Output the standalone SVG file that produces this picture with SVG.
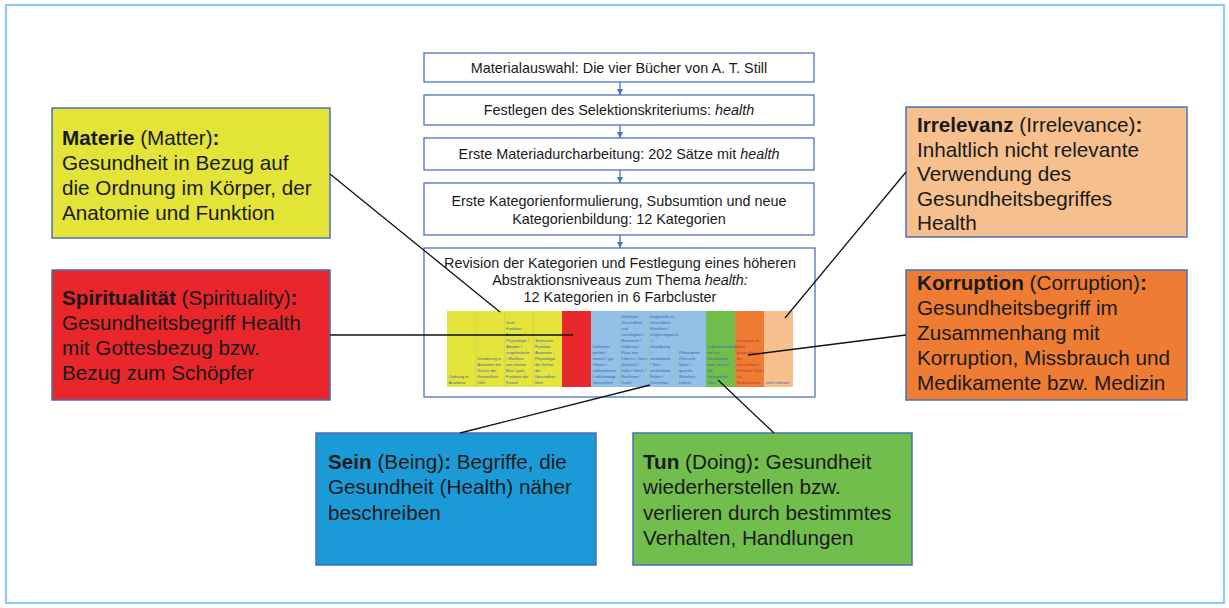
<svg xmlns="http://www.w3.org/2000/svg" width="1229" height="608" viewBox="0 0 1229 608">
<defs>
<style>
.flow{fill:#ffffff;stroke:#4a72c4;stroke-width:1.3}
.ft{font-family:"Liberation Sans",Arial,sans-serif;font-size:14.4px;fill:#1a1a1a;text-anchor:middle}
.ft5{font-family:"Liberation Sans",Arial,sans-serif;font-size:14.4px;fill:#1a1a1a;text-anchor:middle}
.cat{stroke:#4a6fb5;stroke-width:1.5}
.ct{font-family:"Liberation Sans",Arial,sans-serif;font-size:20.7px;fill:#1a1a1a}
.b{font-weight:bold}
.conn{stroke:#111111;stroke-width:1.3;fill:none}
.arr{stroke:#4a72c4;stroke-width:1.3;fill:none}
.tiny{font-family:"Liberation Sans",Arial,sans-serif;font-size:4px;fill:#3e64b0}
.tinyr{font-family:"Liberation Sans",Arial,sans-serif;font-size:4px;fill:#c0392b}
.sep{stroke:#b8b890;stroke-width:0.4}
</style>
<marker id="ah" markerWidth="8" markerHeight="8" refX="7" refY="4" orient="auto" markerUnits="userSpaceOnUse">
<path d="M1,1 L7,4 L1,7 Z" fill="#4a72c4"/>
</marker>
</defs>
<rect x="6" y="5" width="1218" height="598" fill="#ffffff" stroke="#8ecbf0" stroke-width="2.2"/>

<g id="step1"><rect class="flow" x="424" y="53" width="390" height="29"/><text class="ft" x="619" y="72.5">Materialauswahl: Die vier Bücher von A. T. Still</text></g>
<g id="step2"><rect class="flow" x="424" y="95" width="390" height="30"/><text class="ft" x="619" y="115">Festlegen des Selektionskriteriums: <tspan font-style="italic">health</tspan></text></g>
<g id="step3"><rect class="flow" x="424" y="138" width="390" height="32"/><text class="ft" x="619" y="159">Erste Materiadurcharbeitung: 202 Sätze mit <tspan font-style="italic">health</tspan></text></g>
<g id="step4"><rect class="flow" x="424" y="183" width="390" height="52"/><text class="ft" x="619" y="206">Erste Kategorienformulierung, Subsumtion und neue</text><text class="ft" x="619" y="224">Kategorienbildung: 12 Kategorien</text></g>
<g id="step5"><rect class="flow" x="424" y="248" width="391" height="149"/>
<text class="ft5" x="620" y="268">Revision der Kategorien und Festlegung eines höheren</text>
<text class="ft5" x="620" y="285">Abstraktionsniveaus zum Thema <tspan font-style="italic">health:</tspan></text>
<text class="ft5" x="620" y="302">12 Kategorien in 6 Farbcluster</text>
<g id="colorbar">
<rect x="447" y="311" width="116" height="76" fill="#e5e43a"/>
<rect x="562" y="311" width="29.5" height="76" fill="#e8282b"/>
<rect x="591" y="311" width="115.5" height="76" fill="#92c0e6"/>
<rect x="706" y="311" width="29.5" height="76" fill="#72be4d"/>
<rect x="735" y="311" width="29.5" height="76" fill="#ee7d33"/>
<rect x="764" y="311" width="29" height="76" fill="#f6c08e"/>
<line class="sep" x1="475.8" y1="311" x2="475.8" y2="387"/>
<line class="sep" x1="504.6" y1="311" x2="504.6" y2="387"/>
<line class="sep" x1="533.4" y1="311" x2="533.4" y2="387"/>
<line class="sep" x1="619.8" y1="311" x2="619.8" y2="387"/>
<line class="sep" x1="648.6" y1="311" x2="648.6" y2="387"/>
<line class="sep" x1="677.4" y1="311" x2="677.4" y2="387"/>
<text class="tiny" x="448.5" y="378"><tspan x="448.5">Ordnung in</tspan><tspan x="448.5" dy="6">Anatomie</tspan></text>
<text class="tiny" x="477.3" y="360"><tspan x="477.3">Unordnung in</tspan><tspan x="477.3" dy="6">Anatomie die</tspan><tspan x="477.3" dy="6">Verlust der</tspan><tspan x="477.3" dy="6">Gesundheit</tspan><tspan x="477.3" dy="6">führt</tspan></text>
<text class="tiny" x="506.1" y="324"><tspan x="506.1">Gute</tspan><tspan x="506.1" dy="6">Funktion</tspan><tspan x="506.1" dy="6">Anatomie /</tspan><tspan x="506.1" dy="6">Physiologie /</tspan><tspan x="506.1" dy="6">Abwehr /</tspan><tspan x="506.1" dy="6">ungehinderte</tspan><tspan x="506.1" dy="6">r Blutfluss</tspan><tspan x="506.1" dy="6">von reinem</tspan><tspan x="506.1" dy="6">Blut / gute</tspan><tspan x="506.1" dy="6">Funktion der</tspan><tspan x="506.1" dy="6">Faszie</tspan></text>
<text class="tiny" x="534.9" y="342"><tspan x="534.9">Schwache</tspan><tspan x="534.9" dy="6">Funktion</tspan><tspan x="534.9" dy="6">Anatomie /</tspan><tspan x="534.9" dy="6">Physiologie</tspan><tspan x="534.9" dy="6">die Verlust</tspan><tspan x="534.9" dy="6">der</tspan><tspan x="534.9" dy="6">Gesundheit</tspan><tspan x="534.9" dy="6">führt</tspan></text>
<text class="tinyr" x="563.7" y="360" fill="#d25a20"><tspan x="563.7">Bezug zu</tspan><tspan x="563.7" dy="6">Gott /</tspan><tspan x="563.7" dy="6">Schöpfer /</tspan><tspan x="563.7" dy="6">Ewigkeit /</tspan><tspan x="563.7" dy="6">Segen</tspan></text>
<text class="tiny" x="592.5" y="348"><tspan x="592.5">Definition:</tspan><tspan x="592.5" dy="6">perfekt /</tspan><tspan x="592.5" dy="6">normal / gut</tspan><tspan x="592.5" dy="6">/ beste /</tspan><tspan x="592.5" dy="6">vollkommene</tspan><tspan x="592.5" dy="6">/ vollständige</tspan><tspan x="592.5" dy="6">Gesundheit</tspan></text>
<text class="tiny" x="621.3" y="318"><tspan x="621.3">Definition</tspan><tspan x="621.3" dy="6">Gesundheit</tspan><tspan x="621.3" dy="6">und</tspan><tspan x="621.3" dy="6">Leichtigkeit /</tspan><tspan x="621.3" dy="6">Harmonie /</tspan><tspan x="621.3" dy="6">Ordnung /</tspan><tspan x="621.3" dy="6">Fluss des</tspan><tspan x="621.3" dy="6">Lebens / Ganz</tspan><tspan x="621.3" dy="6">(heitlich) /</tspan><tspan x="621.3" dy="6">Fülle / Glück /</tspan><tspan x="621.3" dy="6">Reichtum /</tspan><tspan x="621.3" dy="6">Kraft /</tspan></text>
<text class="tiny" x="650.1" y="318"><tspan x="650.1">Diagnostik zu</tspan><tspan x="650.1" dy="6">Gesundheit</tspan><tspan x="650.1" dy="6">Krankheit /</tspan><tspan x="650.1" dy="6">Ungleichgewich</tspan><tspan x="650.1" dy="6">t /</tspan><tspan x="650.1" dy="6">Unordnung</tspan><tspan x="650.1" dy="6">/</tspan><tspan x="650.1" dy="6">verdorbenh</tspan><tspan x="650.1" dy="6">/ Tod /</tspan><tspan x="650.1" dy="6">verdorbene</tspan><tspan x="650.1" dy="6">Felder /</tspan><tspan x="650.1" dy="6">Unreinheit</tspan></text>
<text class="tiny" x="678.9" y="354"><tspan x="678.9">Philosophie</tspan><tspan x="678.9" dy="6">(Vernunft,</tspan><tspan x="678.9" dy="6">Natur /</tspan><tspan x="678.9" dy="6">gesetzt,</tspan><tspan x="678.9" dy="6">Wahrheit,</tspan><tspan x="678.9" dy="6">Leben)</tspan></text>
<text class="tiny" x="707.5" y="348"><tspan x="707.5">Lebensumstände</tspan><tspan x="707.5" dy="6">die zur</tspan><tspan x="707.5" dy="6">Gesundheit</tspan><tspan x="707.5" dy="6">bzw. Verlust</tspan><tspan x="707.5" dy="6">der</tspan><tspan x="707.5" dy="6">Gesundheit</tspan><tspan x="707.5" dy="6">führt</tspan></text>
<text class="tinyr" x="736.5" y="342"><tspan x="736.5">Korruption &amp;</tspan><tspan x="736.5" dy="6">Geld</tspan><tspan x="736.5" dy="6">gegenüber</tspan><tspan x="736.5" dy="6">der</tspan><tspan x="736.5" dy="6">Gesundheit /</tspan><tspan x="736.5" dy="6">Einfache Geld</tspan><tspan x="736.5" dy="6">auf</tspan><tspan x="736.5" dy="6">Medikamente</tspan></text>
<text class="tiny" x="765.5" y="384">nicht relevant</text>
</g>
</g>

<g id="materie"><rect class="cat" x="52" y="108" width="278" height="130" fill="#e3e338"/>
<text class="ct" x="62" y="145"><tspan class="b">Materie</tspan> (Matter)<tspan class="b">:</tspan></text>
<text class="ct" x="62" y="170">Gesundheit in Bezug auf</text>
<text class="ct" x="62" y="195">die Ordnung im Körper, der</text>
<text class="ct" x="62" y="220">Anatomie und Funktion</text></g>

<g id="spiritualitaet"><rect class="cat" x="52" y="270" width="278" height="130" fill="#e8262b"/>
<text class="ct" x="62" y="305"><tspan class="b">Spiritualität</tspan> (Spirituality)<tspan class="b">:</tspan></text>
<text class="ct" x="62" y="330">Gesundheitsbegriff Health</text>
<text class="ct" x="62" y="355">mit Gottesbezug bzw.</text>
<text class="ct" x="62" y="380">Bezug zum Schöpfer</text></g>

<g id="irrelevanz"><rect class="cat" x="906" y="107" width="281" height="130" fill="#f6c08e"/>
<text class="ct" x="917" y="132"><tspan class="b">Irrelevanz</tspan> (Irrelevance)<tspan class="b">:</tspan></text>
<text class="ct" x="917" y="156.5">Inhaltlich nicht relevante</text>
<text class="ct" x="917" y="181">Verwendung des</text>
<text class="ct" x="917" y="205.5">Gesundheitsbegriffes</text>
<text class="ct" x="917" y="230">Health</text></g>

<g id="korruption"><rect class="cat" x="906" y="270" width="281" height="130" fill="#ee7d33"/>
<text class="ct" x="917" y="290"><tspan class="b">Korruption</tspan> (Corruption)<tspan class="b">:</tspan></text>
<text class="ct" x="917" y="315">Gesundheitsbegriff im</text>
<text class="ct" x="917" y="340">Zusammenhang mit</text>
<text class="ct" x="917" y="365">Korruption, Missbrauch und</text>
<text class="ct" x="917" y="390">Medikamente bzw. Medizin</text></g>

<g id="sein"><rect class="cat" x="316" y="433" width="280" height="132" fill="#1a9bd7"/>
<text class="ct" x="328" y="469"><tspan class="b">Sein</tspan> (Being)<tspan class="b">:</tspan> Begriffe, die</text>
<text class="ct" x="328" y="494">Gesundheit (Health) näher</text>
<text class="ct" x="328" y="520">beschreiben</text></g>

<g id="tun"><rect class="cat" x="633" y="433" width="279" height="132" fill="#72be4d"/>
<text class="ct" x="643" y="469"><tspan class="b">Tun</tspan> (Doing)<tspan class="b">:</tspan> Gesundheit</text>
<text class="ct" x="643" y="494">wiederherstellen bzw.</text>
<text class="ct" x="643" y="520">verlieren durch bestimmtes</text>
<text class="ct" x="643" y="545">Verhalten, Handlungen</text></g>

<g id="connectors">
<line class="arr" x1="620" y1="82" x2="620" y2="95" marker-end="url(#ah)"/>
<line class="arr" x1="620" y1="125" x2="620" y2="138" marker-end="url(#ah)"/>
<line class="arr" x1="620" y1="170" x2="620" y2="183" marker-end="url(#ah)"/>
<line class="arr" x1="620" y1="235" x2="620" y2="248" marker-end="url(#ah)"/>
<line class="conn" x1="330" y1="174" x2="500" y2="312"/>
<line class="conn" x1="330" y1="335" x2="573" y2="335"/>
<line class="conn" x1="906" y1="172" x2="785" y2="318"/>
<line class="conn" x1="906" y1="335" x2="748" y2="355"/>
<line class="conn" x1="460" y1="433" x2="650" y2="385"/>
<line class="conn" x1="774" y1="433" x2="718" y2="380"/>
</g>
</svg>
